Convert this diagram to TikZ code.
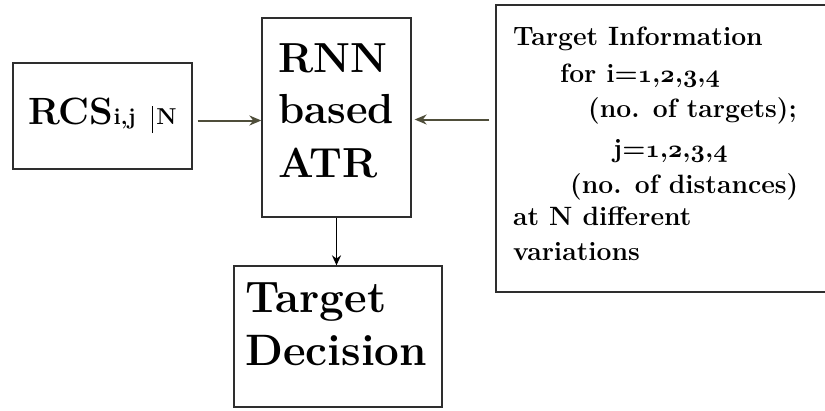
\documentclass[tikz,border=0pt]{standalone}
\usepackage{fontspec}
\usetikzlibrary{arrows.meta,calc}
\definecolor{boxline}{HTML}{2E2E2E}
\definecolor{olivearrow}{HTML}{4F4E3A}
\tikzset{
  blockbox/.style={draw=boxline,line width=1.3pt,inner sep=0pt,rectangle},
  txt/.style={anchor=base west,inner sep=0pt,font=\bfseries},
  arr/.style={line width=2pt,-{Stealth[length=12pt,width=10pt]}},
}
\newcommand{\fsz}[1]{\fontsize{#1}{#1}\selectfont}
% bold old-style digits from the math italic font
\newcommand{\osdigit}[1]{{\usefont{OML}{cmm}{b}{it}#1}}
\newcommand{\oslist}{\osdigit{1},\osdigit{2},\osdigit{3},\osdigit{4}}
\begin{document}
\begin{tikzpicture}[x=1pt,y=-1pt]
\useasboundingbox (0,0) rectangle (825,410);
% blocks
\node[blockbox,minimum width=179pt,minimum height=106pt] (rcs) at (102.5,116) {};
\node[blockbox,minimum width=149pt,minimum height=199pt] (rnn) at (336.5,117.5) {};
\node[blockbox,minimum width=334pt,minimum height=287pt] (info) at (663,148.5) {};
\node[blockbox,minimum width=208pt,minimum height=141pt] (dec) at (338,336.5) {};
% block texts
\node[txt] (rcstxt) at (28,124) {\fsz{38}RCS\fsz{23}i,j\hspace{16pt}\rule[-9pt]{1.5pt}{27pt}\hspace{3pt}N};
\node[txt] (rnn1) at (278,72) {\fsz{42}RNN};
\node[txt] (rnn2) at (278,123) {\fsz{42}based};
\node[txt] (rnn3) at (278,177) {\fsz{42}ATR};
\node[txt] (dec1) at (245,312) {\fsz{44}Target};
\node[txt] (dec2) at (245,365) {\fsz{44}Decision};
\node[txt] (inf1) at (513,45) {\fsz{26.5}Target Information};
\node[txt] (inf2) at (560,82) {\fsz{26.5}for i=\oslist};
\node[txt] (inf3) at (588,117) {\fsz{26.5}(no. of targets);};
\node[txt] (inf4) at (613,157) {\fsz{26.5}j=\oslist};
\node[txt] (inf5) at (570,193) {\fsz{26.5}(no. of distances)};
\node[txt] (inf6) at (513,225) {\fsz{26.5}at N different};
\node[txt] (inf7) at (513,260) {\fsz{26.5}variations};
% connectors
\coordinate (a1) at ($(rcs.east)+(5,4.5)$);
\draw[arr,olivearrow] (a1) -- (a1 -| rnn.west);
\coordinate (a2) at ($(info.west |- rnn.east)+(-6,2)$);
\draw[arr,olivearrow] (a2) -- ($(a2 -| rnn.east)+(3,0)$);
\draw[black,line width=1.6pt,-{Stealth[length=10pt,width=9pt]}] (rnn.south) -- (rnn.south |- dec.north);
\end{tikzpicture}
\end{document}
